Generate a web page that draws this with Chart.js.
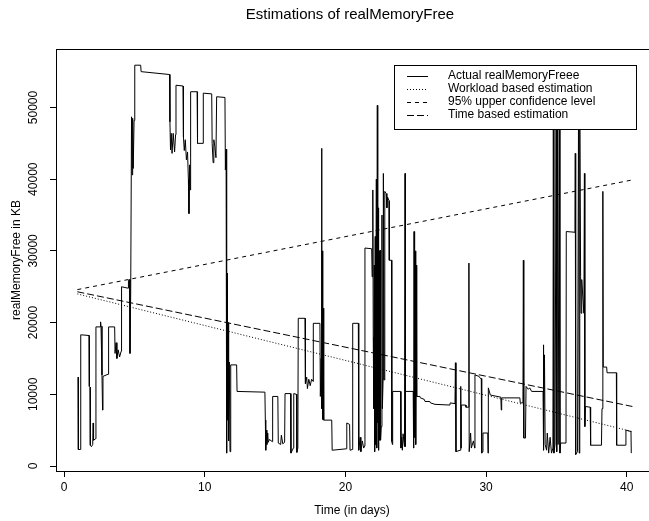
<!DOCTYPE html>
<html>
<head>
<meta charset="utf-8">
<script src="https://cdn.jsdelivr.net/npm/chart.js@4.4.0/dist/chart.umd.min.js"></script>
<style>
  html, body { margin: 0; padding: 0; background: #fff; }
  #wrap { width: 649px; height: 521px; }
</style>
</head>
<body>
<div id="wrap"><canvas id="chart" width="649" height="521"></canvas></div>
<script>
// ===== DATA =====
// actual realMemoryFree trace (time in days, KB)
const memDays = [
  1.00, 1.02, 1.17, 1.19, 1.78, 1.80, 1.85, 1.87, 1.95, 2.04, 2.07, 2.10, 2.25, 2.27, 2.58, 2.60, 2.63, 2.70, 2.74, 2.77,
  3.13, 3.17, 3.60, 3.63, 3.70, 3.76, 3.85, 3.95, 4.06, 4.09, 4.55, 4.58, 4.66, 4.69, 4.74, 4.80, 4.84, 4.88, 4.92, 4.98,
  5.03, 5.45, 5.48, 7.50, 7.53, 7.57, 7.62, 7.68, 7.76, 7.86, 7.93, 7.96, 8.46, 8.49, 8.55, 8.62, 8.70, 8.78, 8.84, 8.88,
  8.93, 8.97, 9.00, 9.46, 9.49, 9.88, 9.90, 10.50, 10.53, 10.60, 10.65, 10.72, 10.80, 10.85, 11.44, 11.47, 11.52, 11.56, 11.59, 11.62,
  11.66, 11.70, 11.75, 11.80, 11.85, 12.27, 12.30, 14.28, 14.31, 14.34, 14.38, 14.42, 14.48, 14.52, 14.60, 14.80, 14.83, 15.20, 15.23, 15.40,
  15.45, 15.55, 15.68, 15.71, 16.10, 16.13, 16.30, 16.33, 16.52, 16.55, 16.62, 16.65, 17.13, 17.16, 17.25, 17.30, 17.40, 17.50, 17.60, 17.70,
  17.72, 18.19, 18.22, 18.28, 18.31, 18.33, 18.36, 18.39, 18.42, 18.46, 19.03, 19.06, 20.08, 20.10, 20.30, 20.33, 20.50, 20.52, 20.92, 20.95,
  21.05, 21.10, 21.20, 21.30, 21.37, 21.39, 21.87, 21.90, 21.95, 21.98, 22.02, 22.05, 22.08, 22.12, 22.15, 22.20, 22.23, 22.27, 22.30, 22.33,
  22.36, 22.40, 22.43, 22.47, 22.50, 22.55, 22.60, 22.63, 22.68, 22.70, 22.75, 22.80, 22.90, 22.95, 23.00, 23.10, 23.12, 23.28, 23.30, 23.34,
  23.36, 23.92, 23.95, 24.00, 24.05, 24.10, 24.20, 24.24, 24.26, 24.28, 24.82, 24.85, 24.88, 24.92, 24.96, 25.00, 25.05, 25.07, 25.30, 25.33,
  25.60, 25.66, 26.00, 26.05, 26.37, 27.43, 27.45, 27.79, 27.82, 27.86, 28.15, 28.20, 28.22, 28.24, 28.55, 28.57, 28.75, 28.78, 28.80, 28.90,
  28.95, 29.10, 29.19, 29.21, 29.50, 29.60, 29.66, 29.69, 29.75, 29.78, 30.12, 30.14, 30.16, 30.30, 31.05, 31.08, 31.11, 32.40, 32.43, 32.62,
  32.65, 32.68, 32.80, 32.84, 33.00, 33.10, 33.24, 34.05, 34.07, 34.10, 34.15, 34.20, 34.30, 34.35, 34.45, 34.55, 34.65, 34.75, 34.78, 34.82,
  34.90, 34.98, 35.02, 35.08, 35.12, 35.20, 35.25, 35.30, 35.68, 35.70, 36.32, 36.34, 36.37, 36.50, 36.58, 36.62, 36.66, 36.72, 36.75, 36.80,
  36.95, 36.99, 37.02, 37.06, 37.40, 37.43, 38.20, 38.24, 38.30, 38.33, 38.57, 38.60, 39.26, 39.28, 39.92, 39.94, 40.30, 40.32
];
const memFree = [
  12400, 2300, 2300, 18300, 18200, 11100, 11000, 2900, 2700, 3000, 6000, 3600, 3800, 19400, 19400, 20100, 19500, 12700, 7800, 12500,
  12800, 19400, 19400, 15700, 17200, 15000, 16200, 15200, 16000, 25000, 24800, 25900, 26000, 15700, 24000, 48700, 40600, 48500, 41500, 48200,
  55900, 55900, 55000, 54600, 48000, 44100, 46400, 43600, 46400, 43800, 46200, 53100, 53000, 45900, 44000, 45500, 42700, 43800, 40000, 35200,
  42000, 38500, 52200, 52200, 45000, 45000, 52000, 51900, 45000, 42300, 45500, 44600, 43000, 51500, 51400, 41300, 44200, 1800, 26900, 6400,
  20000, 3500, 14500, 2000, 14100, 14100, 10400, 10300, 6400, 2200, 5000, 3000, 4600, 3300, 3700, 3400, 9700, 9700, 3200, 3000,
  4300, 3100, 3300, 10100, 10100, 1800, 2500, 10100, 10000, 1900, 2500, 20600, 20600, 11500, 12400, 10800, 12100, 11200, 12100, 11800,
  19900, 19900, 9700, 15000, 44300, 8000, 30000, 6500, 22000, 6400, 6400, 2200, 2400, 6000, 5800, 2200, 2300, 19900, 19900, 2200,
  4000, 2000, 3500, 2500, 2800, 30400, 30300, 26400, 38500, 18000, 8000, 28000, 2000, 32000, 3000, 40000, 2500, 50300, 6000, 36000,
  2200, 30000, 3600, 30100, 3600, 5500, 35000, 8000, 12000, 40800, 12000, 38300, 38000, 36000, 37500, 37000, 28700, 28700, 3400, 3000,
  10400, 10400, 2500, 4000, 2200, 4500, 2700, 40800, 2700, 10400, 10400, 2500, 32700, 4000, 30000, 3000, 28000, 9700, 9700, 9500,
  9300, 9000, 9000, 8800, 8600, 8500, 8800, 8700, 14400, 2000, 2200, 11100, 2500, 8500, 8500, 8200, 8200, 28300, 2000, 4600,
  2500, 3500, 2500, 12700, 12500, 12200, 12200, 1800, 2000, 4600, 4600, 1800, 10900, 9900, 9600, 7800, 9500, 9500, 8800, 8800,
  28700, 3900, 3900, 11100, 10700, 10900, 10400, 10400, 16900, 2200, 15500, 3000, 2200, 4600, 1800, 4000, 1800, 2500, 49000, 1800,
  3000, 50000, 2000, 48000, 3000, 47500, 1800, 3200, 3200, 32700, 32600, 43600, 1600, 2000, 55000, 1800, 50000, 26400, 21300, 26000,
  21300, 40800, 5500, 8300, 8200, 2900, 2900, 8000, 38300, 13800, 13800, 13000, 13000, 2900, 2900, 5000, 4800, 1800
];

// straight estimation lines (start / end of the trace)
const estDays = [0.95, 40.40];
const workloadEst = [24000, 4800];
const upperConf = [24600, 39900];
const timeEst = [24300, 8300];

const xTicks = [0, 10, 20, 30, 40];
const yTicks = [0, 10000, 20000, 30000, 40000, 50000];

const legendLabels = [
  'Actual realMemoryFreee',
  'Workload based estimation',
  '95% upper confidence level',
  'Time based estimation'
];

const FONT = "'Liberation Sans', Arial, Helvetica, sans-serif";

const pts = (xs, ys) => xs.map((x, i) => ({ x, y: ys[i] }));

// ===== R-style frame, titles, rotated y labels, legend =====
const rFrame = {
  id: 'rFrame',
  beforeDraw(chart) {
    const c = chart.ctx;
    c.save();
    c.fillStyle = '#fff';
    c.fillRect(0, 0, chart.width, chart.height);
    c.restore();
  },
  afterDraw(chart) {
    const c = chart.ctx;
    const a = chart.chartArea;
    const ys = chart.scales.y;
    c.save();
    c.strokeStyle = '#000';
    c.lineWidth = 1;
    c.beginPath();
    c.moveTo(a.left, a.top + 0.5);
    c.lineTo(a.right + 10, a.top + 0.5);
    c.stroke();

    c.fillStyle = '#000';
    c.textAlign = 'center';
    c.textBaseline = 'middle';
    c.font = '15px ' + FONT;
    c.fillText('Estimations of realMemoryFree', 350, 15);

    c.font = '12px ' + FONT;
    c.fillText('Time (in days)', 352, 511);

    c.save();
    c.translate(17, (a.top + a.bottom) / 2);
    c.rotate(-Math.PI / 2);
    c.fillText('realMemoryFree in KB', 0, 0);
    c.restore();

    yTicks.forEach(v => {
      c.save();
      c.translate(34, ys.getPixelForValue(v));
      c.rotate(-Math.PI / 2);
      c.fillText(String(v), 0, 0);
      c.restore();
    });

    // legend box
    const lx = 394, ly = 65, lw = 242, lh = 64;
    c.fillStyle = '#fff';
    c.fillRect(lx, ly, lw, lh);
    c.strokeRect(lx + 0.5, ly + 0.5, lw, lh);
    const styles = [chart.data.datasets[3], chart.data.datasets[0], chart.data.datasets[1], chart.data.datasets[2]];
    legendLabels.forEach((label, i) => {
      const y = 76 + i * 13;
      c.setLineDash(styles[i].borderDash || []);
      c.beginPath();
      c.moveTo(407, y + 0.5);
      c.lineTo(428, y + 0.5);
      c.stroke();
      c.setLineDash([]);
      c.fillStyle = '#000';
      c.textAlign = 'left';
      c.fillText(label, 448, y);
    });
    c.restore();
  }
};

new Chart(document.getElementById('chart'), {
  type: 'line',
  data: {
    datasets: [
      { label: legendLabels[1], data: pts(estDays, workloadEst), borderColor: '#000', borderWidth: 1, borderDash: [1, 2], pointRadius: 0 },
      { label: legendLabels[2], data: pts(estDays, upperConf), borderColor: '#000', borderWidth: 1, borderDash: [4, 4], pointRadius: 0 },
      { label: legendLabels[3], data: pts(estDays, timeEst), borderColor: '#000', borderWidth: 1, borderDash: [7, 3], pointRadius: 0 },
      { label: legendLabels[0], data: pts(memDays, memFree), borderColor: '#000', borderWidth: 1, pointRadius: 0 }
    ]
  },
  options: {
    responsive: false,
    animation: false,
    devicePixelRatio: 1,
    layout: { padding: { top: 49, right: 0, bottom: 0, left: 0 } },
    elements: { line: { tension: 0 } },
    plugins: {
      legend: { display: false },
      tooltip: { enabled: false },
      title: { display: false }
    },
    scales: {
      x: {
        type: 'linear',
        min: -0.569,
        max: 41.58,
        afterBuildTicks: s => { s.ticks = xTicks.map(v => ({ value: v })); },
        afterFit: s => { s.height = 50; },
        grid: { drawOnChartArea: false, tickLength: 6, color: '#000' },
        border: { color: '#000', width: 1 },
        ticks: { color: '#000', font: { family: FONT, size: 12 }, padding: 3, maxRotation: 0 }
      },
      y: {
        type: 'linear',
        min: -697,
        max: 58159,
        afterBuildTicks: s => { s.ticks = yTicks.map(v => ({ value: v })); },
        afterFit: s => { s.width = 56; },
        grid: { drawOnChartArea: false, tickLength: 6, color: '#000' },
        border: { color: '#000', width: 1 },
        ticks: { display: false }
      }
    }
  },
  plugins: [rFrame]
});
</script>
</body>
</html>
